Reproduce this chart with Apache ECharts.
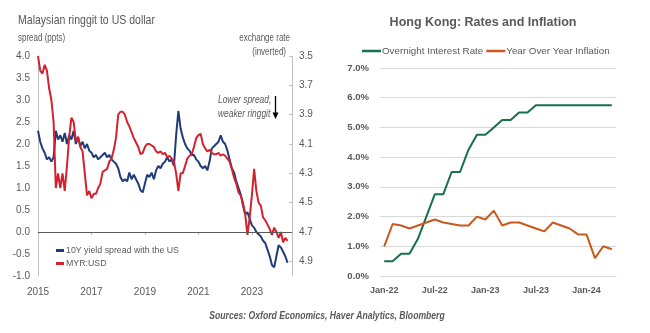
<!DOCTYPE html>
<html>
<head>
<meta charset="utf-8">
<script src="https://cdn.jsdelivr.net/npm/echarts@6/dist/echarts.min.js"></script>
<style>
  html, body { margin: 0; padding: 0; background: #fff; }
  #chart { width: 650px; height: 333px; }
</style>
</head>
<body>
<div id="chart"></div>
<script>
// Malaysia panel: monthly observations starting January 2015
const startYear = 2015;

// 10-year government bond yield spread vs the US (ppts)
const spread = [
  2.3, 2.05, 1.9, 1.8, 1.65, 1.7, 1.6, 1.7, 2.3, 2.1, 2.2, 2.05,
  2.25, 2.0, 2.2, 2.1, 2.3, 2.0, 2.15, 1.95, 2.05, 1.9, 2.0, 1.85,
  1.8, 1.7, 1.75, 1.65, 1.7, 1.75, 1.8, 1.7, 1.75, 1.65, 1.6, 1.55,
  1.45, 1.25, 1.15, 1.2, 1.15, 1.35, 1.2, 1.3, 1.2, 1.1, 0.95, 0.9,
  1.1, 1.3, 1.25, 1.35, 1.2, 1.4, 1.5, 1.45, 1.55, 1.6, 1.7, 1.6,
  1.65, 1.5, 2.2, 2.75, 2.35, 2.15, 2.0, 1.9, 1.85, 1.75, 1.75, 1.65,
  1.6, 1.5, 1.45, 1.5, 1.4, 1.6, 1.9, 1.95, 2.0, 2.05, 2.2, 2.05,
  2.0, 1.85, 1.65, 1.45, 1.35, 1.15, 1.0, 0.85, 0.6, 0.4, 0.45, 0.3,
  0.15, 0.1, 0.0, -0.05, -0.1, -0.2, -0.25, -0.4, -0.55, -0.75, -0.8, -0.55,
  -0.3, -0.35, -0.45, -0.55, -0.7
];

// Ringgit per US dollar (plotted on an inverted scale)
const myrUsd = [
  3.5, 3.6, 3.62, 3.56, 3.6, 3.72, 3.8, 3.95, 4.4, 4.3, 4.4, 4.3,
  4.42, 4.25, 4.05, 3.92, 3.95, 4.08, 4.05, 4.12, 4.15, 4.3, 4.45, 4.42,
  4.47, 4.44, 4.44, 4.4, 4.37, 4.29, 4.28, 4.27, 4.22, 4.2, 4.14, 4.06,
  3.9, 3.88, 3.88, 3.9, 3.95, 3.98, 4.02, 4.06, 4.09, 4.12, 4.17, 4.16,
  4.12, 4.1, 4.1, 4.11, 4.12, 4.15, 4.16, 4.15, 4.17, 4.16, 4.19, 4.18,
  4.2, 4.22, 4.3, 4.42, 4.3, 4.3, 4.25, 4.2, 4.18, 4.17, 4.12, 4.06,
  4.04, 4.03, 4.1, 4.13, 4.15, 4.14, 4.16, 4.17, 4.17, 4.16, 4.18, 4.17,
  4.18, 4.2, 4.22, 4.27, 4.33, 4.37, 4.43, 4.45, 4.5, 4.58, 4.72, 4.6,
  4.45, 4.27, 4.42, 4.5, 4.52, 4.6, 4.62, 4.65, 4.68, 4.72, 4.67, 4.7,
  4.74, 4.7, 4.77, 4.74, 4.76
];

// Hong Kong panel
const hkMonths = [
  'Jan-22', 'Feb-22', 'Mar-22', 'Apr-22', 'May-22', 'Jun-22', 'Jul-22', 'Aug-22', 'Sep-22', 'Oct-22', 'Nov-22', 'Dec-22',
  'Jan-23', 'Feb-23', 'Mar-23', 'Apr-23', 'May-23', 'Jun-23', 'Jul-23', 'Aug-23', 'Sep-23', 'Oct-23', 'Nov-23', 'Dec-23',
  'Jan-24', 'Feb-24', 'Mar-24', 'Apr-24'
];
const overnightRate = [
  0.5, 0.5, 0.75, 0.75, 1.25, 2.0, 2.75, 2.75, 3.5, 3.5, 4.25, 4.75,
  4.75, 5.0, 5.25, 5.25, 5.5, 5.5, 5.75, 5.75, 5.75, 5.75, 5.75, 5.75,
  5.75, 5.75, 5.75, 5.75
];
const inflation = [
  1.0, 1.75, 1.7, 1.6, 1.7, 1.8, 1.9, 1.8, 1.75, 1.7, 1.7, 2.0,
  1.9, 2.2, 1.7, 1.8, 1.8, 1.7, 1.6, 1.5, 1.8, 1.7, 1.6, 1.4,
  1.4, 0.6, 1.0, 0.9
];

const SANS = '"Liberation Sans", Arial, sans-serif';
const GREY = '#595959';
const AXIS_GREY = '#bfbfbf';

const BLUE = '#1f3b78';
const RED = '#d3222e';
const GREEN = '#17704a';
const ORANGE = '#c9581d';

const monthly = arr => arr.map((v, i) => [startYear + i / 12, v]);

// free-standing text; "squeeze" narrows the glyphs horizontally
function label(text, x, y, opts) {
  const o = opts || {};
  return {
    type: 'text', x: x, y: y, silent: true,
    scaleX: o.squeeze || 1, scaleY: 1,
    style: {
      text: text,
      fill: o.color || GREY,
      fontFamily: SANS,
      fontSize: o.size || 10,
      fontWeight: o.weight || 'normal',
      fontStyle: o.style || 'normal',
      align: o.align || 'left', textAlign: o.align || 'left',
      verticalAlign: 'middle', textVerticalAlign: 'middle'
    }
  };
}

const chart = echarts.init(document.getElementById('chart'), null, { renderer: 'canvas' });

chart.setOption({
  animation: false,
  backgroundColor: '#ffffff',
  grid: [
    { left: 38, right: 358, top: 56, bottom: 57 },
    { left: 380, right: 34, top: 68, bottom: 57 }
  ],
  legend: [
    {
      data: ['10Y yield spread with the US', 'MYR:USD'],
      orient: 'vertical', left: 51, top: 241,
      icon: 'rect', itemWidth: 8, itemHeight: 3, itemGap: 4,
      textStyle: { fontFamily: SANS, fontSize: 8.8, color: GREY, padding: [0, 0, 0, -3] }
    },
    {
      data: ['Overnight Interest Rate', 'Year Over Year Inflation'],
      orient: 'horizontal', left: 357, top: 41,
      icon: 'rect', itemWidth: 19, itemHeight: 2.5, itemGap: 3,
      textStyle: { fontFamily: SANS, fontSize: 9.8, color: GREY, padding: [0, 0, 0, -4] }
    }
  ],
  xAxis: [
    {
      gridIndex: 0, type: 'value', min: 2015, max: 2024.5, interval: 2,
      axisLine: { show: true, lineStyle: { color: AXIS_GREY } },
      axisTick: { show: true, length: 3, lineStyle: { color: AXIS_GREY } },
      splitLine: { show: false },
      axisLabel: {
        margin: 11, fontFamily: SANS, fontSize: 10, color: GREY,
        showMaxLabel: false,
        formatter: v => (Number.isInteger(v) ? String(v) : '')
      }
    },
    {
      gridIndex: 1, type: 'category', data: hkMonths, boundaryGap: true,
      axisLine: { show: true, lineStyle: { color: '#d9d9d9' } },
      axisTick: { show: false },
      axisLabel: { interval: 5, margin: 10, fontFamily: SANS, fontSize: 9, fontWeight: 'bold', color: GREY }
    }
  ],
  yAxis: [
    {
      gridIndex: 0, type: 'value', min: -1, max: 4, interval: 0.5,
      axisLine: { show: true, lineStyle: { color: AXIS_GREY } },
      axisTick: { show: false },
      splitLine: { show: false },
      axisLabel: { margin: 8, fontFamily: SANS, fontSize: 10, color: GREY, formatter: v => v.toFixed(1) }
    },
    {
      gridIndex: 0, type: 'value', position: 'right', inverse: true,
      min: 3.5, max: 5.0, interval: 0.2,
      axisLine: { show: true, lineStyle: { color: AXIS_GREY } },
      axisTick: { show: true, inside: true, length: 3, lineStyle: { color: AXIS_GREY } },
      splitLine: { show: false },
      axisLabel: { margin: 7, fontFamily: SANS, fontSize: 10, color: GREY, showMaxLabel: false, formatter: v => v.toFixed(1) }
    },
    {
      gridIndex: 1, type: 'value', min: 0, max: 7, interval: 1,
      axisLine: { show: false },
      axisTick: { show: false },
      splitLine: { show: true, lineStyle: { color: '#d9d9d9', width: 1 } },
      axisLabel: { margin: 11, fontFamily: SANS, fontSize: 9.5, fontWeight: 'bold', color: GREY, formatter: v => v.toFixed(1) + '%' }
    }
  ],
  series: [
    {
      name: '10Y yield spread with the US', type: 'line',
      xAxisIndex: 0, yAxisIndex: 0, data: monthly(spread),
      showSymbol: false, color: BLUE,
      lineStyle: { color: BLUE, width: 2 },
      markLine: {
        silent: true, symbol: 'none', label: { show: false },
        lineStyle: { color: GREY, width: 1, type: 'solid' },
        data: [{ yAxis: 0 }]
      }
    },
    {
      name: 'MYR:USD', type: 'line',
      xAxisIndex: 0, yAxisIndex: 1, data: monthly(myrUsd),
      showSymbol: false, color: RED,
      lineStyle: { color: RED, width: 2 }
    },
    {
      name: 'Overnight Interest Rate', type: 'line',
      xAxisIndex: 1, yAxisIndex: 2, data: overnightRate,
      showSymbol: false, color: GREEN,
      lineStyle: { color: GREEN, width: 2 }
    },
    {
      name: 'Year Over Year Inflation', type: 'line',
      xAxisIndex: 1, yAxisIndex: 2, data: inflation,
      showSymbol: false, color: ORANGE,
      lineStyle: { color: ORANGE, width: 2 }
    }
  ],
  graphic: [
    label('Malaysian ringgit to US dollar', 18, 20, { size: 13.5, squeeze: 0.78 }),
    label('spread (ppts)', 18, 38, { size: 10, squeeze: 0.8 }),
    label('exchange rate', 290, 38, { size: 10, squeeze: 0.8, align: 'right' }),
    label('(inverted)', 286, 52, { size: 10, squeeze: 0.8, align: 'right' }),
    label('Lower spread,', 218, 100, { size: 10.5, squeeze: 0.8, style: 'italic' }),
    label('weaker ringgit', 218, 114, { size: 10.5, squeeze: 0.8, style: 'italic' }),
    {
      type: 'line', silent: true,
      shape: { x1: 275.5, y1: 96, x2: 275.5, y2: 114 },
      style: { stroke: '#000', lineWidth: 1.3 }
    },
    {
      type: 'polygon', silent: true,
      shape: { points: [[272.5, 112.5], [278.5, 112.5], [275.5, 119]] },
      style: { fill: '#000' }
    },
    label('Hong Kong: Rates and Inflation', 483, 23, { size: 12.5, weight: 'bold', align: 'center' }),
    label('Sources: Oxford Economics, Haver Analytics, Bloomberg', 327, 316,
      { size: 10.5, weight: 'bold', style: 'italic', squeeze: 0.82, align: 'center' })
  ]
});
</script>
</body>
</html>
